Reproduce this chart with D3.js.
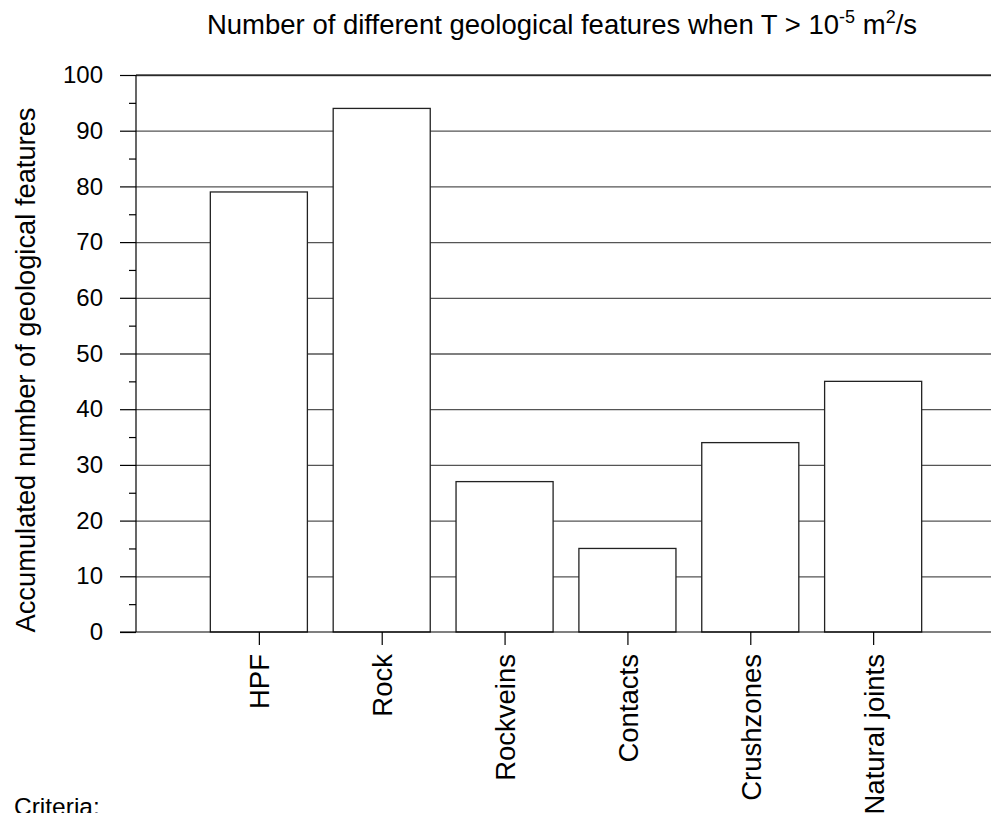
<!DOCTYPE html>
<meta charset="utf-8">
<title>Number of different geological features</title>
<script src="https://cdn.jsdelivr.net/npm/d3@7"></script>
<style>
body { margin:0; background:#fff; }
svg { display:block; font-family:"Liberation Sans", Arial, sans-serif; }
.grid line { stroke:#555; stroke-width:1.3; }
.grid path { display:none; }
.axis path, .axis line { stroke:#000; stroke-width:1.2; }
.axis text { fill:#000; }
.bar { fill:#fff; stroke:#222; stroke-width:1.3; }
</style>
<svg width="991" height="813"></svg>
<script>

var categories = ["HPF", "Rock", "Rockveins", "Contacts", "Crushzones", "Natural joints"],
    counts = [79, 94, 27, 15, 34, 45],
    majorTicks = [0, 10, 20, 30, 40, 50, 60, 70, 80, 90, 100],
    minorTicks = [5, 15, 25, 35, 45, 55, 65, 75, 85, 95];

var svg = d3.select("svg"),
    plotLeft = 136, plotRight = 991, plotTop = 75, plotBottom = 632;

var x = d3.scalePoint().domain(categories).range([plotLeft, 996]).padding(1),
    y = d3.scaleLinear().domain([0, 100]).range([plotBottom, plotTop]);

var barW = x.step() * 0.79;

// gridlines go behind the bars
svg.append("g")
    .attr("class", "grid")
    .attr("transform", "translate(" + plotLeft + ",0)")
    .call(d3.axisLeft(y).tickValues(majorTicks.slice(1)).tickSize(-(plotRight - plotLeft)).tickFormat(""));

svg.selectAll(".bar")
  .data(categories)
  .enter().append("rect")
    .attr("class", "bar")
    .attr("x", function(d) { return x(d) - barW / 2; })
    .attr("y", function(d, i) { return y(counts[i]); })
    .attr("width", barW)
    .attr("height", function(d, i) { return plotBottom - y(counts[i]); });

// top gridline is black
svg.append("line")
    .attr("x1", plotLeft).attr("x2", plotRight)
    .attr("y1", y(100)).attr("y2", y(100))
    .attr("stroke", "#000").attr("stroke-width", 1.2);

svg.append("g")
    .attr("class", "axis axis--y")
    .attr("transform", "translate(" + plotLeft + ",0)")
    .call(d3.axisLeft(y).tickValues(majorTicks).tickSize(16).tickPadding(17))
    .call(function(g) { g.select(".domain").attr("d", "M0," + plotTop + "V" + plotBottom); })
    .selectAll("text")
      .attr("font-size", 24)
      .attr("font-family", "Liberation Sans, Arial, sans-serif");

svg.append("g")
    .attr("class", "axis axis--minor")
    .attr("transform", "translate(" + plotLeft + ",0)")
    .call(d3.axisLeft(y).tickValues(minorTicks).tickSize(7).tickFormat(""))
    .select(".domain").remove();

var xAxis = svg.append("g")
    .attr("class", "axis axis--x")
    .attr("transform", "translate(0," + plotBottom + ")")
    .call(d3.axisBottom(x).tickSize(13));

xAxis.select(".domain")
    .attr("d", "M" + (plotLeft - 16) + ",0H" + plotRight)
    .attr("stroke-width", 2);

xAxis.selectAll("text")
    .attr("font-size", 27.5)
    .attr("font-family", "Liberation Sans, Arial, sans-serif")
    .attr("text-anchor", "end")
    .attr("transform", "rotate(-90)")
    .attr("x", -22)
    .attr("y", 0)
    .attr("dy", "0.36em");

svg.append("text")
    .attr("transform", "translate(35,370) rotate(-90)")
    .attr("text-anchor", "middle")
    .attr("font-size", 27.3)
    .text("Accumulated number of geological features");

var title = svg.append("text")
    .attr("x", 562)
    .attr("y", 34)
    .attr("text-anchor", "middle")
    .attr("font-size", 27.5);
title.append("tspan").text("Number of different geological features when T > 10");
title.append("tspan").attr("font-size", 18).attr("dy", -11).text("-5");
title.append("tspan").attr("dy", 11).text(" m");
title.append("tspan").attr("font-size", 18).attr("dy", -11).text("2");
title.append("tspan").attr("dy", 11).text("/s");

svg.append("text")
    .attr("x", 14)
    .attr("y", 815)
    .attr("font-size", 24.5)
    .text("Criteria:");

</script>
</html>
